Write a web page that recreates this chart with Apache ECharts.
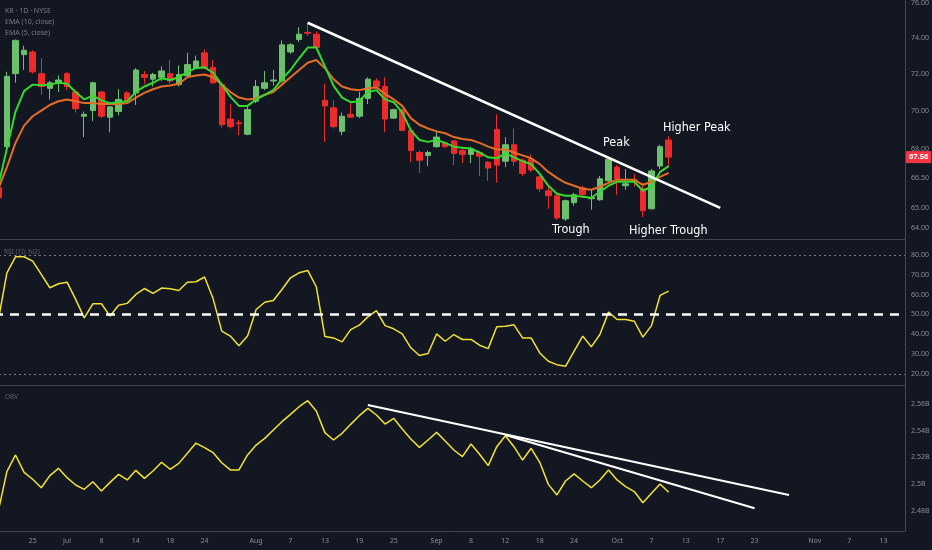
<!DOCTYPE html>
<html><head><meta charset="utf-8">
<script src="https://cdn.jsdelivr.net/npm/echarts@6/dist/echarts.min.js"></script>
<style>html,body{margin:0;padding:0;background:#131722;}#c{width:932px;height:550px;}</style>
</head><body><div id="c"></div>
<script>
// ---- categories (trading days) ----
const dates = [
'2025-06-18','2025-06-20','2025-06-23','2025-06-24','2025-06-25','2025-06-26','2025-06-27','2025-06-30',
'2025-07-01','2025-07-02','2025-07-03','2025-07-07','2025-07-08','2025-07-09','2025-07-10','2025-07-11','2025-07-14','2025-07-15','2025-07-16','2025-07-17','2025-07-18','2025-07-21','2025-07-22','2025-07-23','2025-07-24','2025-07-25','2025-07-28','2025-07-29','2025-07-30','2025-07-31',
'2025-08-01','2025-08-04','2025-08-05','2025-08-06','2025-08-07','2025-08-08','2025-08-11','2025-08-12','2025-08-13','2025-08-14','2025-08-15','2025-08-18','2025-08-19','2025-08-20','2025-08-21','2025-08-22','2025-08-25','2025-08-26','2025-08-27','2025-08-28','2025-08-29',
'2025-09-02','2025-09-03','2025-09-04','2025-09-05','2025-09-08','2025-09-09','2025-09-10','2025-09-11','2025-09-12','2025-09-15','2025-09-16','2025-09-17','2025-09-18','2025-09-19','2025-09-22','2025-09-23','2025-09-24','2025-09-25','2025-09-26','2025-09-29','2025-09-30',
'2025-10-01','2025-10-02','2025-10-03','2025-10-06','2025-10-07','2025-10-08','2025-10-09'];
const futureDates = [
'2025-10-10','2025-10-13','2025-10-14','2025-10-15','2025-10-16','2025-10-17','2025-10-20','2025-10-21','2025-10-22','2025-10-23','2025-10-24','2025-10-27','2025-10-28','2025-10-29','2025-10-30','2025-10-31',
'2025-11-03','2025-11-04','2025-11-05','2025-11-06','2025-11-07','2025-11-10','2025-11-11','2025-11-12','2025-11-13','2025-11-14','2025-11-17'];

// ---- price candles: [open, close, low, high] ----
const ohlc = [
[66.0,65.5,65.3,66.3],[68.1,71.85,67.9,72.1],[72.0,73.85,71.5,73.9],[73.05,73.3,72.2,73.55],[73.2,72.1,72.0,73.3],[72.0,71.3,70.85,72.85],[71.2,71.5,70.6,71.6],[71.5,71.65,71.0,71.9],
[72.0,71.3,71.1,72.1],[71.0,70.1,69.9,71.05],[69.7,69.8,68.6,69.95],[70.0,71.5,69.45,71.55],[71.0,69.7,69.6,71.05],[69.65,70.2,68.85,70.25],[69.95,70.6,69.75,71.15],[70.95,70.55,70.5,71.05],
[70.95,72.2,70.3,72.3],[71.95,71.8,71.45,72.15],[71.7,71.95,71.3,72.05],[71.8,72.15,71.6,72.4],[72.0,71.6,71.45,72.75],[71.4,71.95,71.3,72.45],[71.88,72.5,71.8,73.15],[72.3,72.7,72.25,73.0],
[73.15,72.3,72.25,73.35],[72.35,71.5,71.45,72.75],[71.4,69.25,69.1,71.45],[69.55,69.15,69.05,70.35],[69.35,69.3,68.7,69.5],[68.75,70.05,68.7,70.2],
[70.5,71.3,70.4,71.65],[71.2,71.5,71.1,72.15],[71.6,71.65,71.35,72.2],[71.6,73.6,71.5,73.85],[73.2,73.6,73.1,73.7],[73.9,74.2,73.75,74.6],[74.3,74.25,74.1,74.85],[74.2,73.45,73.4,74.35],
[70.55,70.25,68.35,71.45],[70.15,69.15,69.05,70.55],[68.9,69.7,68.7,69.9],[69.8,69.65,69.6,70.4],[69.7,70.65,69.6,71.0],[70.65,71.7,70.35,71.8],[71.6,71.3,71.25,71.75],[71.3,69.55,68.85,71.8],
[69.6,70.05,69.55,70.1],[70.05,68.95,68.9,70.1],[68.95,67.9,67.3,69.0],[67.8,67.4,66.75,67.9],[67.65,67.8,67.1,67.9],
[68.1,68.6,68.05,68.95],[68.3,68.1,68.05,68.35],[68.4,67.75,67.15,68.45],[67.9,67.7,67.25,68.0],[67.7,68.0,67.25,68.1],[67.8,67.6,66.6,67.85],[67.3,67.0,66.35,67.35],[69.0,67.15,66.25,69.8],
[67.35,68.2,67.05,68.6],[68.2,67.35,67.1,69.05],[67.4,66.72,66.6,67.5],[67.45,66.9,66.8,67.7],[66.55,65.95,65.8,66.6],[65.85,65.6,64.95,66.05],[65.6,64.5,64.4,65.65],[64.45,65.35,64.35,65.4],
[65.25,65.65,65.1,65.75],[66.0,65.65,65.6,66.1],[65.45,65.5,64.9,65.9],[65.4,66.45,65.35,66.6],[66.35,67.45,66.3,67.5],
[67.05,66.45,65.65,67.15],[66.1,66.2,65.9,66.95],[66.4,66.38,66.05,66.7],[65.95,64.85,64.55,66.25],[64.95,66.85,64.9,66.95],[67.1,68.1,66.95,68.2],[68.45,67.56,67.05,68.65]];

// ---- EMA lines ----
const ema10 = [65.95,67.05,68.3,69.2,69.7,70.0,70.3,70.5,
70.6,70.5,70.4,70.4,70.35,70.35,70.35,70.4,70.7,70.95,71.15,71.3,71.35,71.45,71.8,71.9,71.95,71.8,71.4,71.0,70.7,70.6,
70.65,70.85,71.0,71.4,71.8,72.2,72.6,72.75,72.3,71.7,71.3,71.15,71.1,71.2,71.25,70.9,70.6,70.25,69.6,69.25,69.05,
68.9,68.8,68.6,68.5,68.45,68.3,68.1,67.95,67.95,67.8,67.65,67.5,67.2,66.8,66.5,66.25,66.1,65.95,65.9,66.05,66.25,
66.4,66.4,66.4,66.15,66.3,66.55,66.75];
const ema5 = [66.1,68.0,69.95,71.05,71.4,71.37,71.4,71.5,
71.45,71.0,70.6,70.8,70.55,70.4,70.45,70.5,71.0,71.3,71.5,71.75,71.65,71.8,72.1,72.3,72.35,72.05,71.4,70.75,70.25,70.25,
70.6,70.85,71.1,71.7,72.2,72.85,73.45,73.45,72.4,71.35,70.7,70.45,70.5,71.0,71.1,70.6,70.45,69.9,68.95,68.45,68.35,
68.45,68.3,68.1,68.05,68.0,67.8,67.55,67.5,67.75,67.55,67.35,67.2,66.7,66.1,65.7,65.6,65.6,65.55,65.5,65.8,66.1,
66.3,66.3,66.3,65.85,66.05,66.8,67.1];

// ---- RSI ----
const rsi = [47,71.0,79.1,79.1,76.9,70.2,63.5,65.5,
66.3,57.6,48.3,55.4,55.4,49.2,54.7,55.6,60.1,63.1,60.6,63.3,63.0,62.1,66.3,66.5,68.9,57.9,41.6,39.1,34.3,39.1,
52.5,56.2,57.1,62.6,68.5,71.0,72.2,64.0,38.9,38.2,36.2,42.4,44.6,48.8,52.0,44.4,42.8,40.2,33.2,29.3,30.3,
40.2,36.5,39.9,37.4,37.4,34.5,32.8,43.8,44.1,44.8,38.2,38.2,30.6,26.4,24.7,23.9,31.5,39.1,33.7,39.9,51.2,
47.5,47.5,46.6,38.6,44.4,59.6,61.8];

// ---- OBV (billions) ----
const obv = [2.480,2.5094,2.5219,2.5089,2.5037,2.4974,2.5064,2.5119,
2.5049,2.4994,2.4962,2.5019,2.4950,2.5014,2.5074,2.5032,2.5104,2.5044,2.5099,2.5164,2.5112,2.5156,2.5231,2.5308,2.5274,2.5236,2.5161,2.5107,2.5107,2.5219,
2.5293,2.5343,2.5406,2.5468,2.5523,2.5580,2.5625,2.5548,2.5386,2.5331,2.5381,2.5448,2.5513,2.5568,2.5518,2.5450,2.5493,2.5413,2.5338,2.5276,2.5331,
2.5388,2.5323,2.5256,2.5206,2.5301,2.5224,2.5139,2.5281,2.5363,2.5281,2.5181,2.5269,2.5164,2.4999,2.4920,2.5024,2.5077,2.5024,2.4974,2.5032,2.5107,
2.5032,2.4982,2.4945,2.4862,2.4932,2.5002,2.4940];

// ---- trend lines ----
const priceTrend = [['2025-08-11',74.85],['2025-10-17',65.0]];
const obvTrendA = [['2025-08-20',2.5593],['2025-10-29',2.492]];
const obvTrendB = [['2025-09-12',2.5368],['2025-10-23',2.482]];
const lastPrice = 67.56;

// ---- tick labels ----
const priceTicks = [64,65,66.5,68,70,72,74,76];
const rsiTicks = [20,30,40,50,60,70,80];
const rsiGuides = [80,50,20];
const obvTicks = [2.48,2.5,2.52,2.54,2.56];
const xTickDates = ['2025-06-25','2025-07-01','2025-07-08','2025-07-14','2025-07-18','2025-07-24','2025-08-01','2025-08-07','2025-08-13','2025-08-19','2025-08-25','2025-09-02','2025-09-08','2025-09-12','2025-09-18','2025-09-24','2025-10-01','2025-10-07','2025-10-13','2025-10-17','2025-10-23','2025-11-03','2025-11-07','2025-11-13'];
const xTickTexts = ['25','Jul','8','14','18','24','Aug','7','13','19','25','Sep','8','12','18','24','Oct','7','13','17','23','Nov','7','13'];

// ---- build ----
const allDates = dates.concat(futureDates);
const tickMap = new Map(xTickDates.map((d,i)=>[d,xTickTexts[i]]));
const grey = '#8a8d96', sep = '#434651', font = "'Noto Sans','Open Sans',sans-serif";
const narrow = "'Liberation Sans Narrow','DejaVu Sans Condensed',sans-serif";
const up = '#6cbf6c', down = '#ec2b2b', yellow = '#f2e233';

function xAx(g, labels){
  return {type:'category', gridIndex:g, data:allDates, boundaryGap:true,
    axisLine:{show:true,lineStyle:{color:sep,width:1}}, axisTick:{show:false}, splitLine:{show:false},
    axisLabel: labels ? {show:true,color:grey,fontSize:7,fontFamily:font,margin:6,
      interval:(i,v)=>tickMap.has(v), formatter:(v)=>tickMap.get(v)||''} : {show:false}};
}
function yAx(g, extra){
  return Object.assign({gridIndex:g, position:'right',
    axisLine:{show:true,lineStyle:{color:sep,width:1}}, axisTick:{show:false}, splitLine:{show:false}}, extra);
}
const lbl = (vals, fmt) => ({customValues:vals, formatter:fmt, color:grey, fontSize:7, fontFamily:font, margin:6});
const gridBase = {left:-6,right:27,containLabel:false,outerBoundsMode:'none'};

const chart = echarts.init(document.getElementById('c'));
chart.setOption({
  backgroundColor:'#131722',
  animation:false,
  grid:[
    Object.assign({top:0,height:239},gridBase),
    Object.assign({top:240,height:145},gridBase),
    Object.assign({top:386,height:145},gridBase)
  ],
  xAxis:[xAx(0,false),xAx(1,false),xAx(2,true)],
  yAxis:[
    yAx(0,{type:'log',logBase:10,min:63.47,max:76.16,axisLabel:lbl(priceTicks,v=>(+v).toFixed(2))}),
    yAx(1,{type:'value',min:14.45,max:87.56,axisLabel:lbl(rsiTicks,v=>(+v).toFixed(2))}),
    yAx(2,{type:'value',min:2.465,max:2.5735,axisLabel:lbl(obvTicks,v=>parseFloat((+v).toFixed(2))+'B')})
  ],
  series:[
    {type:'candlestick',xAxisIndex:0,yAxisIndex:0,data:ohlc,barWidth:6,
      itemStyle:{color:up,color0:down,borderColor:up,borderColor0:down,borderWidth:1},
      markLine:{silent:true,symbol:['none','none'],data:[{yAxis:lastPrice}],
        lineStyle:{color:'transparent'},
        label:{position:'end',formatter:lastPrice.toFixed(2),backgroundColor:'#f23645',color:'#fff',
          fontSize:7.5,fontWeight:'bold',fontFamily:font,padding:[2,3,2,3],distance:1}}},
    {type:'line',name:'EMA10',xAxisIndex:0,yAxisIndex:0,data:ema10,symbol:'none',lineStyle:{color:'#e36d26',width:2},z:3},
    {type:'line',name:'EMA5',xAxisIndex:0,yAxisIndex:0,data:ema5,symbol:'none',lineStyle:{color:'#35d92e',width:2},z:4},
    {type:'line',xAxisIndex:0,yAxisIndex:0,data:priceTrend,symbol:'none',lineStyle:{color:'#ffffff',width:2.5},z:5},
    {type:'line',xAxisIndex:1,yAxisIndex:1,data:rsi,symbol:'none',lineStyle:{color:yellow,width:1.5},z:4,
      markLine:{silent:true,symbol:['none','none'],label:{show:false},
        data:rsiGuides.map(v=>({yAxis:v,lineStyle: v===50 ? {color:'#ffffff',width:2.5,type:[9,7]} : {color:'#787b86',width:1,type:[2,3]}}))}},
    {type:'line',xAxisIndex:2,yAxisIndex:2,data:obv,symbol:'none',lineStyle:{color:yellow,width:1.5},z:4},
    {type:'line',xAxisIndex:2,yAxisIndex:2,data:obvTrendA,symbol:'none',lineStyle:{color:'#ffffff',width:2},z:5},
    {type:'line',xAxisIndex:2,yAxisIndex:2,data:obvTrendB,symbol:'none',lineStyle:{color:'#ffffff',width:2},z:5}
  ],
  graphic:[
    {type:'text',x:5,y:11,style:{text:'KR · 1D · NYSE',fill:'#787b86',fontSize:7,fontFamily:font,verticalAlign:'middle'}},
    {type:'text',x:5,y:22,style:{text:'EMA (10, close)',fill:'#787b86',fontSize:7,fontFamily:font,verticalAlign:'middle'}},
    {type:'text',x:5,y:33,style:{text:'EMA (5, close)',fill:'#787b86',fontSize:7,fontFamily:font,verticalAlign:'middle'}},
    {type:'text',x:4,y:252,style:{text:'RSI (10, hl2)',fill:'#5d606b',fontSize:6.5,fontFamily:font,verticalAlign:'middle'}},
    {type:'text',x:5,y:397,style:{text:'OBV',fill:'#5d606b',fontSize:6.5,fontFamily:font,verticalAlign:'middle'}},
    {type:'text',x:603,y:143,style:{text:'Peak',fill:'#ffffff',fontSize:12.5,fontFamily:narrow,verticalAlign:'middle'}},
    {type:'text',x:663,y:128,style:{text:'Higher Peak',fill:'#ffffff',fontSize:12.5,fontFamily:narrow,verticalAlign:'middle'}},
    {type:'text',x:552,y:230,style:{text:'Trough',fill:'#ffffff',fontSize:12.5,fontFamily:narrow,verticalAlign:'middle'}},
    {type:'text',x:629,y:231,style:{text:'Higher Trough',fill:'#ffffff',fontSize:12.5,fontFamily:narrow,verticalAlign:'middle'}}
  ]
});
</script></body></html>
